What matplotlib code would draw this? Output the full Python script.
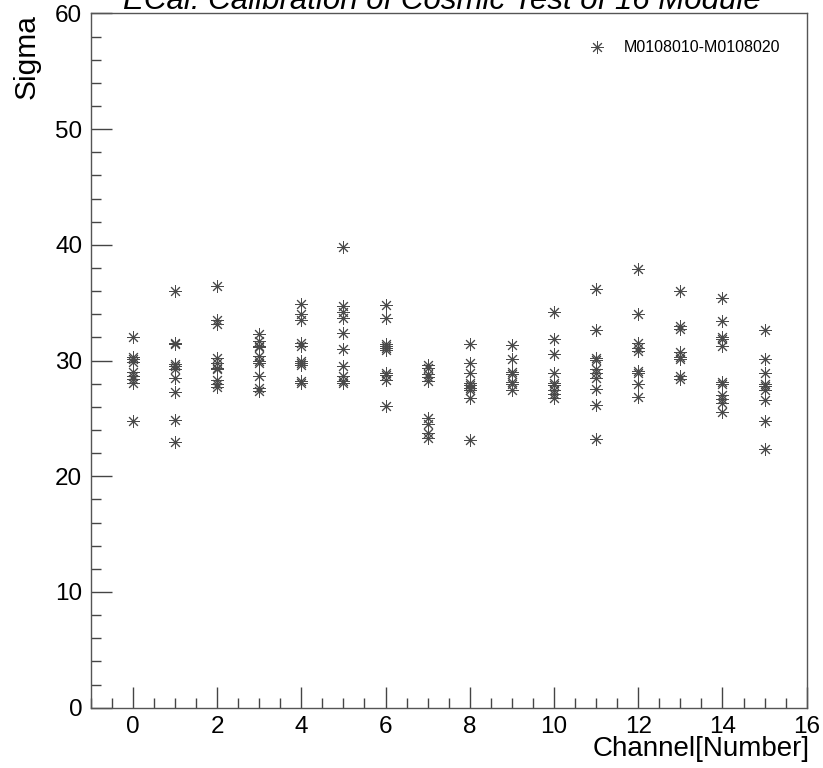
import matplotlib
matplotlib.use('Agg')
import matplotlib.pyplot as plt
from matplotlib.ticker import MultipleLocator

plt.rcParams['font.family'] = ['Liberation Sans', 'DejaVu Sans']

# sigma values per channel (module M0108010-M0108020)
sigma_ch0 = [32.0, 30.3, 30.1, 29.9, 29.0, 28.7, 28.4, 28.1, 24.8]
sigma_ch1 = [36.0, 31.5, 31.4, 29.7, 29.5, 29.3, 28.5, 27.3, 24.85, 23.0]
sigma_ch2 = [36.45, 33.5, 33.2, 30.2, 29.8, 29.4, 29.25, 28.3, 28.0, 27.7]
sigma_ch3 = [32.3, 31.7, 31.3, 31.15, 30.4, 30.0, 29.8, 28.7, 27.65, 27.35]
sigma_ch4 = [34.9, 34.05, 33.5, 31.5, 31.25, 30.0, 29.8, 29.6, 28.25, 28.1]
sigma_ch5 = [39.8, 34.7, 34.2, 33.7, 32.4, 31.0, 29.5, 28.7, 28.2, 28.1]
sigma_ch6 = [34.8, 33.65, 31.4, 31.25, 31.1, 30.95, 28.95, 28.75, 28.3, 26.1]
sigma_ch7 = [29.6, 29.4, 28.8, 28.6, 28.25, 25.0, 24.55, 23.75, 23.35]
sigma_ch8 = [31.4, 29.75, 28.9, 28.1, 27.9, 27.65, 27.45, 26.8, 23.1]
sigma_ch9 = [31.35, 30.15, 29.0, 28.85, 28.15, 28.0, 27.5]
sigma_ch10 = [34.2, 31.85, 30.55, 28.9, 28.1, 27.9, 27.45, 27.15, 26.75]
sigma_ch11 = [36.15, 32.6, 30.25, 30.05, 29.3, 28.9, 28.5, 27.55, 26.2, 23.25]
sigma_ch12 = [37.95, 34.05, 31.55, 31.1, 30.85, 29.1, 28.9, 28.0, 26.85]
sigma_ch13 = [36.05, 33.0, 32.75, 30.7, 30.3, 30.1, 28.65, 28.45]
sigma_ch14 = [35.45, 33.4, 32.05, 31.85, 31.25, 28.15, 28.0, 27.0, 26.65, 26.35, 25.55]
sigma_ch15 = [32.6, 30.1, 28.9, 28.0, 27.8, 27.5, 26.55, 24.75, 22.4]

sigmas = [sigma_ch0, sigma_ch1, sigma_ch2, sigma_ch3, sigma_ch4, sigma_ch5,
          sigma_ch6, sigma_ch7, sigma_ch8, sigma_ch9, sigma_ch10, sigma_ch11,
          sigma_ch12, sigma_ch13, sigma_ch14, sigma_ch15]

xs = []
ys = []
for ch, vals in enumerate(sigmas):
    xs += [ch] * len(vals)
    ys += vals

fig = plt.figure(figsize=(8.23, 7.68), dpi=100)
ax = fig.add_axes([0.1102, 0.0785, 0.870, 0.904])

ax.plot(xs, ys, linestyle='none', marker=(8, 2, 0), markersize=9,
        markeredgewidth=0.7, color='#4a4a4a', label='M0108010-M0108020')

ax.set_xlim(-1, 16)
ax.set_ylim(0, 60)
ax.xaxis.set_major_locator(MultipleLocator(2))
ax.xaxis.set_minor_locator(MultipleLocator(0.5))
ax.yaxis.set_major_locator(MultipleLocator(10))
ax.yaxis.set_minor_locator(MultipleLocator(2))
ax.tick_params(which='both', direction='in', top=False, right=False,
               color='#444444', width=1.0, labelsize=17.5)
ax.tick_params(which='major', length=15)
ax.tick_params(which='minor', length=7)
ax.tick_params(axis='x', pad=6)
ax.tick_params(axis='y', pad=6)
for sp in ax.spines.values():
    sp.set_color('#555555')
    sp.set_linewidth(1.0)

fig.text(0.984, 0.0075, 'Channel[Number]', ha='right', va='bottom', fontsize=20)
fig.text(0.032, 0.982, 'Sigma', rotation=90, ha='center', va='top', fontsize=21.5)
fig.text(0.5365, 0.988, 'ECal: Calibration of Cosmic Test of 16 Module',
         ha='center', va='baseline', fontsize=22.5, style='italic')

ax.legend(loc='center left', bbox_to_anchor=(0.7157, 0.9375),
          bbox_transform=fig.transFigure, frameon=False, numpoints=1,
          handlelength=1.0, handletextpad=1.2, borderpad=0, borderaxespad=0,
          fontsize=11.5)

plt.savefig('out.png', dpi=100)
